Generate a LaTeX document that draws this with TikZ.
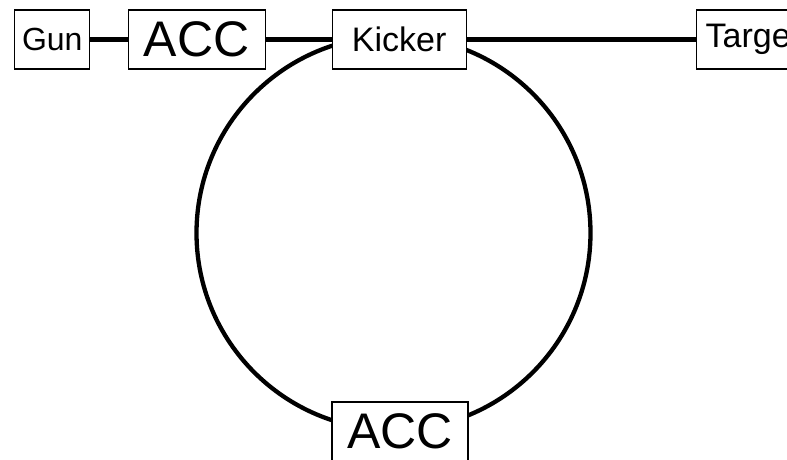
\documentclass[tikz,border=0pt]{standalone}
\usepackage{fontspec}
\setmainfont{Liberation Sans}
\begin{document}
\begin{tikzpicture}[x=1pt,y=1pt,
  boxs/.style={draw, fill=white, line width=1.3pt, inner sep=0pt, minimum height=59pt},
  small/.style={font=\fontsize{32}{32}\selectfont},
  mid/.style={font=\fontsize{34}{34}\selectfont},
  big/.style={font=\fontsize{50}{50}\selectfont},
  beam/.style={line width=4.3pt}]
\useasboundingbox (0,0) rectangle (787,-460);
\coordinate (ringc) at (393.5,-233);
\draw[beam] (ringc) circle[radius=197];
\node[boxs, small, minimum width=75pt] (gun) at (52.3,-39.5) {Gun};
\node[boxs, big, minimum width=137pt] (acc1) at (196.7,-39.5) {ACC};
\node[boxs, mid, minimum width=134pt] (kick) at (399.2,-39.5) {Kicker};
\node[boxs, mid, inner xsep=9pt, anchor=west] (targ) at (696,-39.5) {Target};
\node[boxs, big, minimum width=136pt] (acc2) at (400,-431.5) {ACC};
\draw[beam] (gun.east) -- (acc1.west);
\draw[beam] (acc1.east) -- (kick.west);
\draw[beam] (kick.east) -- (targ.west);
\end{tikzpicture}
\end{document}
